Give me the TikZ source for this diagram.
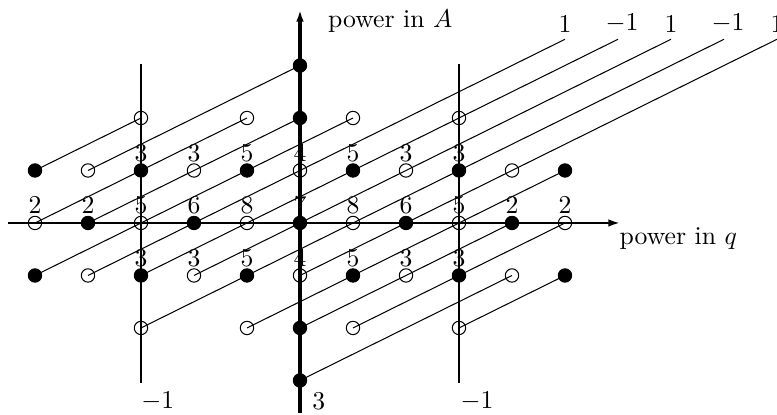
\documentclass[tikz,border=0pt]{standalone}
\usepackage{amsmath,amssymb}
\usepackage{tikz}
\usetikzlibrary{arrows.meta}

\begin{document}
\begin{tikzpicture}[x=0.725cm,y=0.718cm,
  od/.style={circle,draw,minimum size=5.2pt,inner sep=0pt},
  fd/.style={od,fill},
  nm/.style={above,inner sep=3.3pt},
  tl/.style={above,inner sep=2.3pt},
  ln/.style={thin},
  ax/.style={line width=0.9pt},
  tip/.style={-{Latex[length=4.6pt,width=3pt]}}]
\useasboundingbox (-5.66,-3.657) rectangle (9.0,4.248);

% --- axes ---
\draw[ax,tip] (-5.51,0) -- (6.04,0);
\draw[line width=1.3pt,tip] (0,-3.62) -- (0,4.06);
\draw[ax] (-3,-3.05) -- (-3,3.03);
\draw[ax] (3,-3.05) -- (3,3.03);
\node[anchor=west] (alab) at (0.36,3.85) {power in $A$};
\node[anchor=west] (qlab) at (5.86,-0.29) {power in $q$};
\node[anchor=west,inner sep=0pt] (bl) at (-3,-3.405) {$-1$};
\node[anchor=west,inner sep=0pt] (bc) at (0.226,-3.405) {$3$};
\node[anchor=west,inner sep=0pt] (br) at (3.02,-3.405) {$-1$};

% --- generators ---
\foreach \y in {3,2,-2,-3} \node[fd] (g0_\y) at (0,\y) {};
\foreach \x in {-5,-3,...,5} {
  \node[fd] (g\x_1) at (\x,1) {};
  \node[od] (g\x_0) at (\x,0) {};
  \node[fd] (g\x_-1) at (\x,-1) {};}
\foreach \x in {-4,-2,...,4} {
  \node[od] (g\x_1) at (\x,1) {};
  \node[fd] (g\x_0) at (\x,0) {};
  \node[od] (g\x_-1) at (\x,-1) {};}
\foreach \x in {-3,-1,1,3} {
  \node[od] (g\x_2) at (\x,2) {};
  \node[od] (g\x_-2) at (\x,-2) {};}

% --- ranks ---
\foreach \x/\n in {-3/3,-2/3,-1/5,0/4,1/5,2/3,3/3} {
  \node[nm] (r\x_1) at (\x,1) {$\n$};
  \node[nm] (r\x_-1) at (\x,-1) {$\n$};}
\foreach \x/\n in {-5/2,-4/2,-3/5,-2/6,-1/8,0/7,1/8,2/6,3/5,4/2,5/2}
  \node[nm] (r\x_0) at (\x,0) {$\n$};

% --- cancelling pairs ---
\foreach \a/\b in {-5_1/-3_2,-4_1/0_3,-5_0/-1_2,-4_0/0_2,-5_-1/1_2,
    -1_-2/5_1,0_-2/4_0,1_-2/5_0,0_-3/4_-1,3_-2/5_-1}
  \draw[ln] (g\a.center) -- (g\b.center);

% --- surviving lines ---
\foreach \k/\e in {1/5,2/6,3/7,4/8,5/9} \coordinate (e\k) at (\e,3.5);
\foreach \a/\k in {-4_-1/1,-3_-1/2,-2_-1/3,-3_-2/4,0_-1/5}
  \draw[ln] (g\a.center) -- (e\k);
\node[tl] (t1) at (e1) {$1$};
\node[tl,xshift=1.6pt] (t2) at (e2) {$-1$};
\node[tl] (t3) at (e3) {$1$};
\node[tl,xshift=1.6pt] (t4) at (e4) {$-1$};
\node[tl] (t5) at (e5) {$1$};
\end{tikzpicture}
\end{document}
